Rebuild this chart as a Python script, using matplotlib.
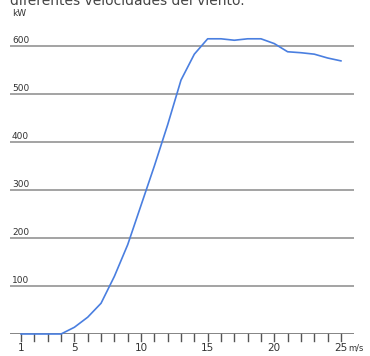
import matplotlib
matplotlib.use("Agg")
import matplotlib.pyplot as plt
from matplotlib.transforms import blended_transform_factory

speed = [1, 2, 3, 4, 5, 6, 7, 8, 9, 10, 11, 12, 13, 14, 15, 16, 17, 18, 19, 20, 21, 22, 23, 24, 25]
power = [0, 0, 0, 0, 14, 35, 64, 120, 186, 268, 350, 436, 529, 583, 615, 615, 612, 615, 615, 605, 588, 586, 583, 575, 569]
y_ticks = [100, 200, 300, 400, 500, 600]
y_labels = ["100", "200", "300", "400", "500", "600"]
x_ticks = [1, 5, 10, 15, 20, 25]
x_labels = ["1", "5", "10", "15", "20", "25"]

W, H = 370, 356
fig = plt.figure(figsize=(W / 100, H / 100), dpi=100)
left_px, right_px, bottom_px, top_px = 10, 354, 334, 20
hpx = bottom_px - top_px
ax = fig.add_axes([left_px / W, (H - bottom_px) / H, (right_px - left_px) / W, hpx / H])
ax.set_xlim(0.17, 25.98)
ax.set_ylim(0, hpx / 0.48)
ax.axis("off")

grid_c = "#8a8a8a"
for v in y_ticks:
    ax.axhline(v, color=grid_c, lw=1.1, zorder=1)
ax.axhline(0, color="#707070", lw=1.2, zorder=1)

# small ticks below baseline
trans = blended_transform_factory(ax.transData, ax.transAxes)
for s in range(1, 26):
    ax.plot([s, s], [0, -7 / hpx], transform=trans, color="#555555", lw=1.0, clip_on=False)

ax.plot(speed, power, color="#4a7fe0", lw=1.2, zorder=3, clip_on=False)

# y labels above gridlines
ttrans = blended_transform_factory(ax.transAxes, ax.transData)
for v, lab in zip(y_ticks, y_labels):
    ax.text(2 / (right_px - left_px), v + 2, lab, transform=ttrans, fontsize=6.5,
            color="#333333", ha="left", va="bottom")

# x labels
for v, lab in zip(x_ticks, x_labels):
    ax.text(v, -14 / hpx, lab, transform=trans, fontsize=7.5,
            color="#333333", ha="center", va="center")
ax.text(25.55, -14 / hpx, "m/s", transform=trans, fontsize=6,
        color="#333333", ha="left", va="center")

fig.text(12 / W, 1 - 14 / H, "kW", fontsize=6.5, color="#333333", ha="left", va="center")
fig.text(10 / W, 1 - 5 / H, "diferentes velocidades del viento.", fontsize=10,
         color="#444444", ha="left", va="baseline")

fig.savefig("out.png", dpi=100)
